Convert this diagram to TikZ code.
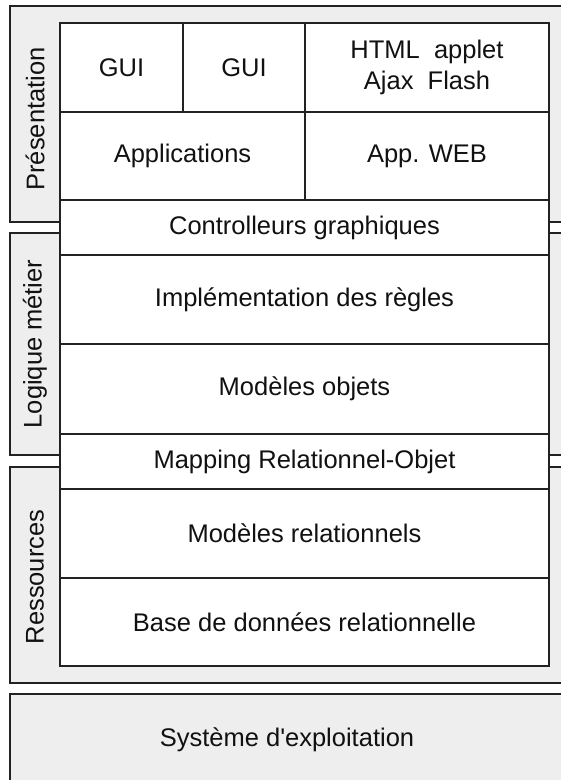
\documentclass[tikz,border=0pt]{standalone}
\usepackage{fontspec}
\setmainfont{Liberation Sans}[Ligatures=TeXOff]
\definecolor{linec}{HTML}{222222}
\definecolor{grayfill}{HTML}{EEEEEE}
\definecolor{textc}{HTML}{111111}
\tikzset{
  graybox/.style={draw=linec, fill=grayfill, line width=1.2pt},
  cell/.style={draw=linec, fill=white, line width=1.2pt},
  lbl/.style={text=textc, font=\fontsize{25.5}{31}\selectfont, align=center, inner sep=0pt},
  sidelbl/.style={lbl, rotate=90}
}
\begin{document}
\begin{tikzpicture}[x=1pt,y=-1pt]
\useasboundingbox (0,0) rectangle (561,780);
\begin{scope}
\clip (0,0) rectangle (561,780);
% grey layer boxes
\draw[graybox] (10,6) rectangle (566,222);
\draw[graybox] (10,233) rectangle (566,455);
\draw[graybox] (10,467) rectangle (566,683);
\draw[graybox] (10,694) rectangle (566,790);
\end{scope}
% side labels
\node[sidelbl] (pres) at (35,119) {Présentation};
\node[sidelbl] (logi) at (35,344) {Logique métier};
\node[sidelbl] (ress) at (35,577) {Ressources};
\node[lbl] (os) at (287,740) {Système d'exploitation};
% white stack
\draw[cell] (60,23) rectangle node[lbl] (gui1) {GUI} (183,112);
\draw[cell] (183,23) rectangle node[lbl] (gui2) {GUI} (305,112);
\draw[cell] (305,23) rectangle node[lbl] (web) {HTML~~applet\\Ajax~~Flash} (549,112);
\draw[cell] (60,112) rectangle node[lbl] (apps) {Applications} (305,200);
\draw[cell] (305,112) rectangle node[lbl] (appweb) {App. WEB} (549,200);
\draw[cell] (60,200) rectangle node[lbl] (ctrl) {Controlleurs graphiques} (549,255);
\draw[cell] (60,255) rectangle node[lbl] (impl) {Implémentation des règles} (549,344);
\draw[cell] (60,344) rectangle node[lbl] (modobj) {Modèles objets} (549,434);
\draw[cell] (60,434) rectangle node[lbl] (map) {Mapping Relationnel-Objet} (549,489);
\draw[cell] (60,489) rectangle node[lbl] (modrel) {Modèles relationnels} (549,578);
\draw[cell] (60,578) rectangle node[lbl] (bdd) {Base de données relationnelle} (549,666);
\end{tikzpicture}
\end{document}
